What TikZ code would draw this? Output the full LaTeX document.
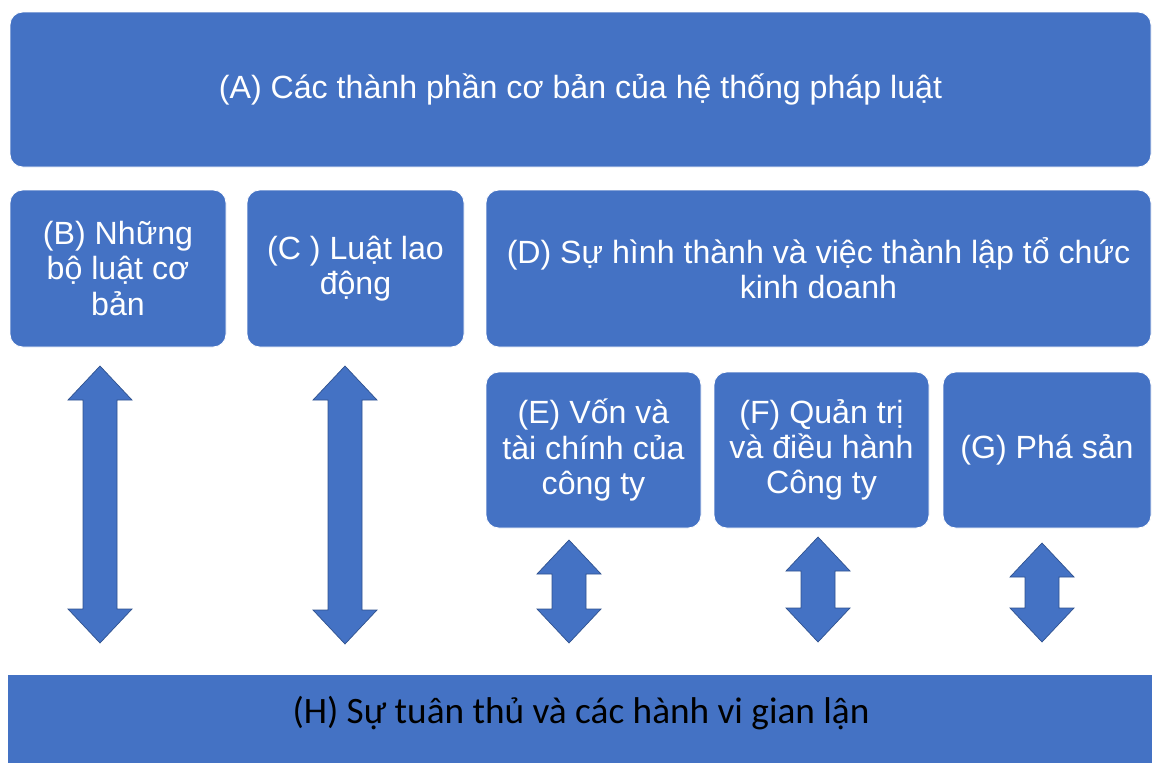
\documentclass[tikz,border=0pt]{standalone}
\usepackage{fontspec}
\setmainfont{Liberation Sans}
\newfontfamily\calfont{Carlito}
\usetikzlibrary{calc}

\definecolor{boxblue}{HTML}{4472C4}
\definecolor{edgeblue}{HTML}{2F528F}

% fat double arrow between two tips
\newcommand{\fatarrow}[2]{%
  \filldraw[fatarrow] (#1) -- ($(#1)+(32,34)$) -- ($(#1)+(17,34)$) -- ($(#2)+(17,-34)$)
    -- ($(#2)+(32,-34)$) -- (#2) -- ($(#2)+(-32,-34)$) -- ($(#2)+(-17,-34)$)
    -- ($(#1)+(-17,34)$) -- ($(#1)+(-32,34)$) -- cycle;}

\begin{document}
\begin{tikzpicture}[x=0.025cm, y=-0.025cm,
  blockbox/.style={fill=boxblue, draw=white, line width=0.6pt, rounded corners=9pt,
    text=white, align=center, inner sep=0pt, font=\fontsize{22.85}{25}\selectfont},
  pxbox/.style 2 args={minimum width=#1*0.025cm, minimum height=#2*0.025cm},
  fatarrow/.style={fill=boxblue, draw=edgeblue, line width=0.5pt}]

\useasboundingbox (0,0) rectangle (1152,763);

\node[blockbox, pxbox={1141}{155}] (A) at (580.5,89.5) {(A) Các thành phần cơ bản của hệ thống pháp luật};

\node[blockbox, pxbox={216}{157}] (B) at (118,268.5) {(B) Những\\bộ luật cơ\\bản};
\node[blockbox, pxbox={217}{157}] (C) at (355.5,268.5) {(C ) Luật lao\\động};
\node[blockbox, pxbox={665}{157}] (D) at (818.5,268.5) {(D) Sự hình thành và việc thành lập tổ chức\\kinh doanh};

\node[blockbox, pxbox={215}{156}] (E) at (593.5,450) {(E) Vốn và\\tài chính của\\công ty};
\node[blockbox, pxbox={215}{156}] (F) at (821.5,450) {(F) Quản trị\\và điều hành\\Công ty};
\node[blockbox, pxbox={208}{156}] (G) at (1047,450) {(G) Phá sản};

\fill[boxblue] (8,675) rectangle (1160,775);
\node[font=\calfont\fontsize{26.5}{30}\selectfont, text=black] (H) at (581,713) {(H) Sự tuân thủ và các hành vi gian lận};

% -------- arrows -----------
\coordinate (b1) at (100,366);  \coordinate (b2) at (100,643);
\coordinate (c1) at (345,366);  \coordinate (c2) at (345,644);
\coordinate (e1) at (569,540);  \coordinate (e2) at (569,643);
\coordinate (f1) at (818,537);  \coordinate (f2) at (818,642);
\coordinate (g1) at (1042,543); \coordinate (g2) at (1042,642);

\fatarrow{b1}{b2}
\fatarrow{c1}{c2}
\fatarrow{e1}{e2}
\fatarrow{f1}{f2}
\fatarrow{g1}{g2}

\end{tikzpicture}
\end{document}
